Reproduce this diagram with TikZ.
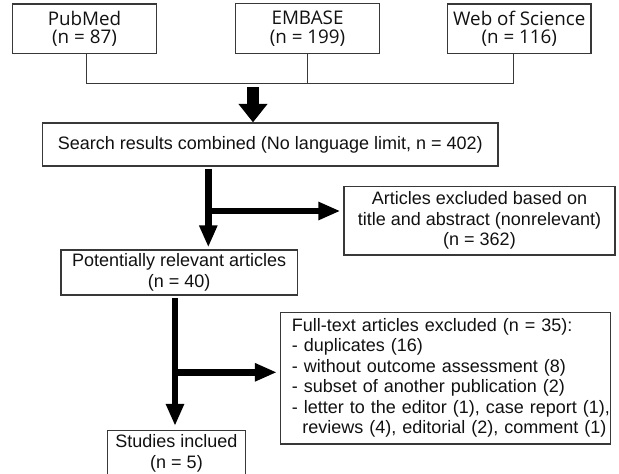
\documentclass[tikz,border=0pt]{standalone}
\usepackage{fontspec}
\setmainfont{Liberation Sans}
\newfontfamily\topfont{Open Sans}
\usetikzlibrary{arrows.meta}
\definecolor{boxgray}{HTML}{383838}
\definecolor{txt}{HTML}{111111}
\begin{document}
\begin{tikzpicture}[x=1pt,y=-1pt,
  box/.style={draw=boxgray, line width=1.3pt, inner sep=0pt, text=txt},
  topbox/.style={box, font=\topfont\fontsize{18.8}{18.6}\selectfont, align=center},
  mainbox/.style={box, font=\fontsize{18}{20.5}\selectfont},
  thinline/.style={draw=boxgray, line width=1.4pt},
  flow/.style={line width=6.5pt, -{Triangle[length=22pt,width=17pt]}},
  bigarrow/.style={line width=11.7pt, -{Triangle[length=18.5pt,width=28pt]}}
]
\useasboundingbox (0,0) rectangle (619,474);

% top sources
\node[topbox, minimum width=144.4pt, minimum height=49.3pt] (pub) at (84.5,28.7) {PubMed\\(n = 87)};
\node[topbox, minimum width=143.6pt, minimum height=49.8pt] (emb) at (307.5,28.5) {EMBASE\\(n = 199)};
\node[topbox, minimum width=143.3pt, minimum height=49.3pt] (wos) at (519.3,28.7) {Web of Science\\(n = 116)};

% main flow boxes
\node[mainbox, minimum width=455.3pt, minimum height=43pt] (search) at (270.3,144.5) {Search results combined (No language limit, n = 402)};
\node[mainbox, minimum width=271pt, minimum height=68.3pt, align=center] (art) at (479.5,220.8) {Articles excluded based on\\title and abstract (nonrelevant)\\(n = 362)};
\node[mainbox, minimum width=236.3pt, minimum height=45pt, align=center] (pot) at (179.2,272.5) {Potentially relevant articles\\(n = 40)};
\node[mainbox, minimum width=330.2pt, minimum height=131.3pt, text width=330pt, inner xsep=0pt, align=left] (ft) at (445.6,378.3) {\begin{tabular}{@{\hspace{11.2pt}}l@{}}Full-text articles excluded (n = 35):\\- duplicates (16)\\- without outcome assessment (8)\\- subset of another publication (2)\\- letter to the editor (1), case report (1),\\\hspace*{10.5pt}reviews (4), editorial (2), comment (1)\end{tabular}};
\node[mainbox, minimum width=138.4pt, minimum height=45.5pt, align=center] (stud) at (176.5,453.3) {Studies inclued\\(n = 5)};

% joining lines of the sources
\coordinate (hl) at (0,83.3);
\draw[thinline] ([xshift=2.2pt]pub.south) -- ([xshift=2.2pt]pub.south |- hl) -- ([xshift=-6pt]wos.south |- hl) -- ([xshift=-6pt]wos.south);
\draw[thinline] (emb.south) -- (emb.south |- hl);

% big arrow into search box
\coordinate (bigstart) at (253,87);
\draw[bigarrow] (bigstart) -- (bigstart |- search.north);

% first stage
\coordinate (a1) at (208.3,0);
\coordinate (b1) at (0,211);
\draw[flow, shorten <=2pt, shorten >=2pt] (a1 |- search.south) -- (a1 |- pot.north);
\draw[flow, shorten >=3pt] (a1 |- b1) -- (art.west |- b1);

% second stage
\coordinate (a2) at (175,0);
\coordinate (b2) at (0,372.3);
\draw[flow, shorten <=2pt, shorten >=4pt] (a2 |- pot.south) -- (a2 |- stud.north);
\draw[flow, shorten >=3pt] (a2 |- b2) -- (ft.west |- b2);
\end{tikzpicture}
\end{document}
